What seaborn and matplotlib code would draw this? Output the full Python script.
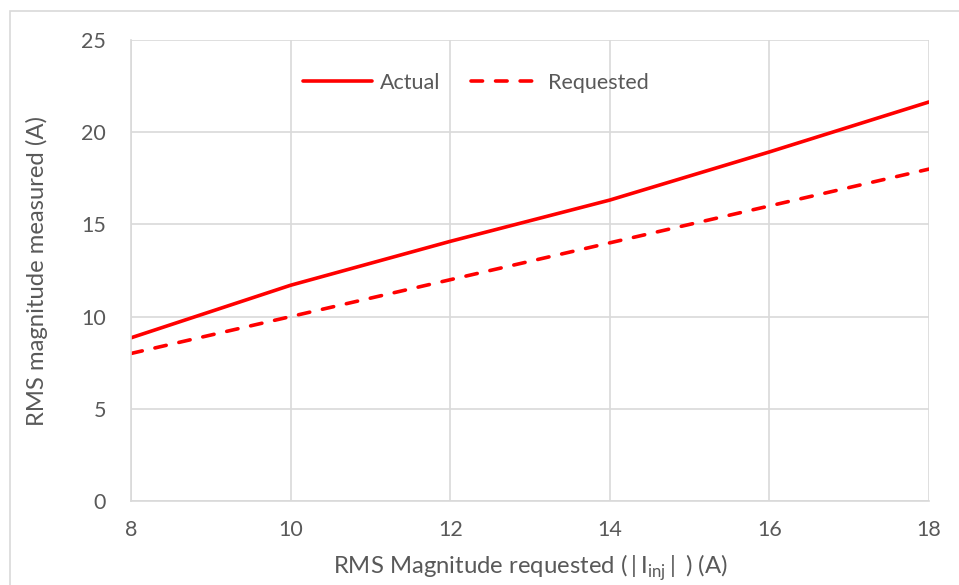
import numpy as np
import pandas as pd
import matplotlib
matplotlib.use("Agg")
import matplotlib.pyplot as plt
from matplotlib.patches import Rectangle
import seaborn as sns

# Data
requested_current = [8, 10, 12, 14, 16, 18]
actual_current = [8.85, 11.7, 14.08, 16.32, 18.93, 21.64]
requested_line = [8, 10, 12, 14, 16, 18]
series_names = ["Actual", "Requested"]
x_ticks = [8, 10, 12, 14, 16, 18]
y_ticks = [0, 5, 10, 15, 20, 25]

df = pd.DataFrame({
    "requested": requested_current * 2,
    "measured": actual_current + requested_line,
    "series": [series_names[0]] * len(requested_current) + [series_names[1]] * len(requested_current),
})

sns.set_theme(style="white")
plt.rcParams["font.family"] = ["Lato", "DejaVu Sans"]
plt.rcParams["mathtext.fontset"] = "custom"
plt.rcParams["mathtext.rm"] = "Lato"

text_color = "#595959"
grid_color = "#d9d9d9"
red = "#ff0000"

fig = plt.figure(figsize=(9.59, 5.85), dpi=100)
ax = fig.add_axes([131 / 959, 1 - 501 / 585, (929 - 131) / 959, (501 - 40) / 585])

sns.lineplot(
    data=df, x="requested", y="measured", hue="series", style="series",
    palette={"Actual": red, "Requested": red},
    dashes={"Actual": "", "Requested": (3.2, 3.6)},
    linewidth=2.6, ax=ax, legend=True,
)
for line in ax.get_lines():
    line.set_dash_capstyle("round")

ax.set_xlim(8, 18)
ax.set_ylim(0, 25)
ax.set_xticks(x_ticks)
ax.set_yticks(y_ticks)
ax.grid(True, color=grid_color, linewidth=1.2)
ax.set_axisbelow(True)
for side in ["top", "right"]:
    ax.spines[side].set_visible(False)
for side in ["left", "bottom"]:
    ax.spines[side].set_color(grid_color)
    ax.spines[side].set_linewidth(1.2)
ax.tick_params(axis="both", length=0, labelsize=15.5, labelcolor=text_color)
ax.tick_params(axis="y", pad=18)
ax.tick_params(axis="x", pad=14)

ax.set_xlabel(r"RMS Magnitude requested ($\,|\,$I$_{\mathregular{inj}}$$\,|\,$ ) (A)",
              fontsize=17.2, color=text_color, labelpad=9)
ax.set_ylabel("RMS magnitude measured (A)", fontsize=17.2, color=text_color, labelpad=24)

handles, labels = ax.get_legend_handles_labels()
leg = ax.legend(handles, labels, loc="center", bbox_to_anchor=(476 / 959, 1 - 83 / 585),
                bbox_transform=fig.transFigure, ncol=2, frameon=False, fontsize=15.5,
                handlelength=3.2, handletextpad=0.4, columnspacing=1.4, labelcolor=text_color)
for line in leg.get_lines():
    line.set_dash_capstyle("round")

# Chart-area border
fig.patches.append(Rectangle((10 / 959, -0.1), 1.2, 1 - 11 / 585 + 0.1,
                             transform=fig.transFigure, fill=False,
                             edgecolor=grid_color, linewidth=1.2))

fig.savefig("out.png", dpi=100)
